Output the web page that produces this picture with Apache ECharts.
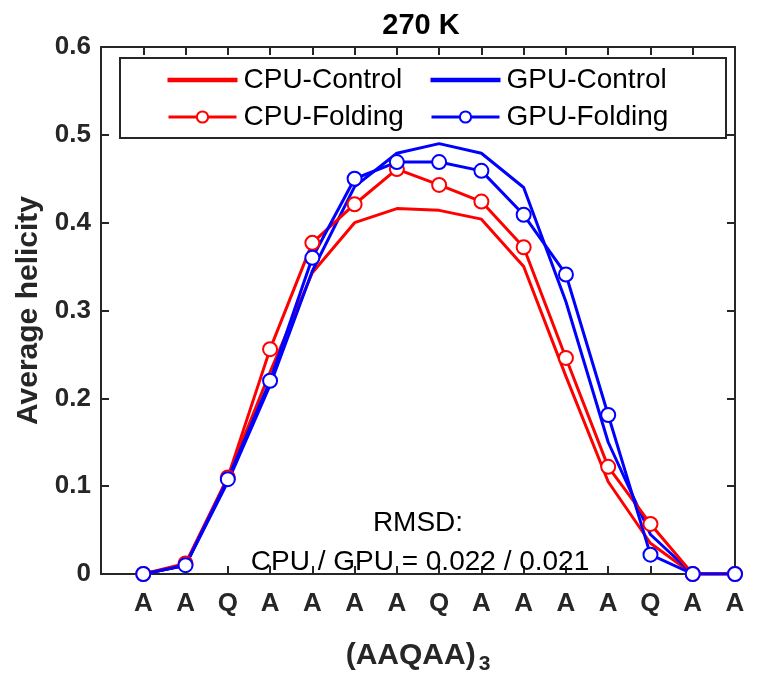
<!DOCTYPE html>
<html><head><meta charset="utf-8">
<script src="https://cdn.jsdelivr.net/npm/echarts@6/dist/echarts.min.js"></script>
<style>html,body{margin:0;padding:0;background:#fff}#c{width:758px;height:673px}</style>
</head><body><div id="c"></div>
<script>
const categories = ['A','A','Q','A','A','A','A','Q','A','A','A','A','Q','A','A'];
const cpuControl = [0, 0.01, 0.11, 0.23, 0.343, 0.40, 0.416, 0.414, 0.404, 0.35, 0.225, 0.105, 0.035, 0, 0];
const gpuControl = [0, 0.01, 0.105, 0.215, 0.345, 0.441, 0.479, 0.49, 0.479, 0.44, 0.31, 0.15, 0.045, 0, 0];
const cpuFolding = [0, 0.012, 0.11, 0.256, 0.377, 0.421, 0.461, 0.443, 0.424, 0.372, 0.246, 0.122, 0.057, 0, 0];
const gpuFolding = [0, 0.01, 0.108, 0.220, 0.360, 0.450, 0.469, 0.469, 0.459, 0.409, 0.341, 0.181, 0.022, 0, 0];
const yTicks = [0, 0.1, 0.2, 0.3, 0.4, 0.5, 0.6];

const axisColor = '#262626';
const FONT = 'Liberation Sans, Arial, sans-serif';
const pts = arr => arr.map((v, i) => [i + 1, v]);
const lineIcon = 'path://M0,0 L68,0 L68,2.6 L0,2.6 Z';

const chart = echarts.init(document.getElementById('c'), null, {renderer: 'canvas'});
const lineSeries = (name, arr, color, marker) => ({
  name, type: 'line', data: pts(arr), xAxisIndex: 0, yAxisIndex: 0,
  symbol: marker ? 'emptyCircle' : 'none', symbolSize: 14, showSymbol: marker,
  lineStyle: {color, width: 3}, itemStyle: {color, borderColor: color, borderWidth: 2.8},
  emphasis: {disabled: true}, animation: false
});
const legendCommon = {
  orient: 'vertical', itemWidth: 68, itemHeight: 14, itemGap: 9, padding: 0,
  textStyle: {fontFamily: FONT, fontSize: 28, color: '#000', lineHeight: 28, padding: [0, 0, 0, 2]},
  lineStyle: {width: 3},
  selectedMode: false
};
chart.setOption({
  animation: false,
  title: {text: '270 K', left: 416, textAlign: 'center', top: 6,
    textStyle: {fontFamily: FONT, fontSize: 29, fontWeight: 'bold', color: '#000'}},
  grid: {left: 101, right: 23, top: 47, bottom: 99, containLabel: false, outerBoundsMode: 'none'},
  legend: [
    Object.assign({}, legendCommon, {left: 167, top: 66,
      data: [{name: 'CPU-Control', icon: lineIcon}, {name: 'CPU-Folding'}]}),
    Object.assign({}, legendCommon, {left: 430, top: 66,
      data: [{name: 'GPU-Control', icon: lineIcon}, {name: 'GPU-Folding'}]})
  ],
  xAxis: [{
    type: 'value', min: 0, max: 15, interval: 1, position: 'bottom',
    name: '(AAQAA){sub|3}', nameLocation: 'middle', nameGap: 62,
    nameTextStyle: {fontFamily: FONT, fontSize: 30, fontWeight: 'bold', color: axisColor,
      rich: {sub: {fontFamily: FONT, fontSize: 21, fontWeight: 'bold', color: axisColor, verticalAlign: 'bottom', padding: [18, 0, 0, 3]}}},
    axisLine: {onZero: false, lineStyle: {color: axisColor, width: 2}},
    axisTick: {inside: true, length: 8, lineStyle: {color: axisColor, width: 2}},
    axisLabel: {margin: 17, fontFamily: FONT, fontSize: 26, fontWeight: 'bold', color: axisColor,
      formatter: v => (v >= 1 && v <= categories.length) ? categories[v - 1] : ''},
    splitLine: {show: false}
  }, {
    type: 'value', min: 0, max: 15, interval: 1, position: 'top',
    axisLine: {onZero: false, lineStyle: {color: axisColor, width: 2}},
    axisTick: {inside: true, length: 8, lineStyle: {color: axisColor, width: 2}},
    axisLabel: {show: false}, splitLine: {show: false}
  }],
  yAxis: [{
    type: 'value', min: yTicks[0], max: yTicks[yTicks.length - 1], interval: 0.1, position: 'left',
    name: 'Average helicity', nameLocation: 'middle', nameGap: 56,
    nameTextStyle: {fontFamily: FONT, fontSize: 30, fontWeight: 'bold', color: axisColor},
    axisLine: {show: true, onZero: false, lineStyle: {color: axisColor, width: 2}},
    axisTick: {show: true, inside: true, length: 8, lineStyle: {color: axisColor, width: 2}},
    axisLabel: {margin: 10, fontFamily: FONT, fontSize: 26, fontWeight: 'bold', color: axisColor,
      formatter: v => (Math.round(v * 10) / 10).toString()},
    splitLine: {show: false}
  }, {
    type: 'value', min: 0, max: 0.6, interval: 0.1, position: 'right',
    axisLine: {show: true, onZero: false, lineStyle: {color: axisColor, width: 2}},
    axisTick: {show: true, inside: true, length: 8, lineStyle: {color: axisColor, width: 2}},
    axisLabel: {show: false}, splitLine: {show: false}
  }],
  graphic: [
    {type: 'rect', left: 119, top: 57, shape: {width: 606, height: 80}, z: -1,
      style: {fill: '#fff', stroke: axisColor, lineWidth: 2}},
    {type: 'text', x: 418, y: 523, z: 10,
      style: {text: 'RMSD:', fontFamily: FONT, fontSize: 28, fill: '#000', align: 'center', verticalAlign: 'middle'}},
    {type: 'text', x: 420, y: 562, z: 10,
      style: {text: 'CPU / GPU = 0.022 / 0.021', fontFamily: FONT, fontSize: 28, fill: '#000', align: 'center', verticalAlign: 'middle'}}
  ],
  series: [
    lineSeries('CPU-Control', cpuControl, '#ff0000', false),
    lineSeries('GPU-Control', gpuControl, '#0000ff', false),
    lineSeries('CPU-Folding', cpuFolding, '#ff0000', true),
    lineSeries('GPU-Folding', gpuFolding, '#0000ff', true)
  ]
});
</script></body></html>
